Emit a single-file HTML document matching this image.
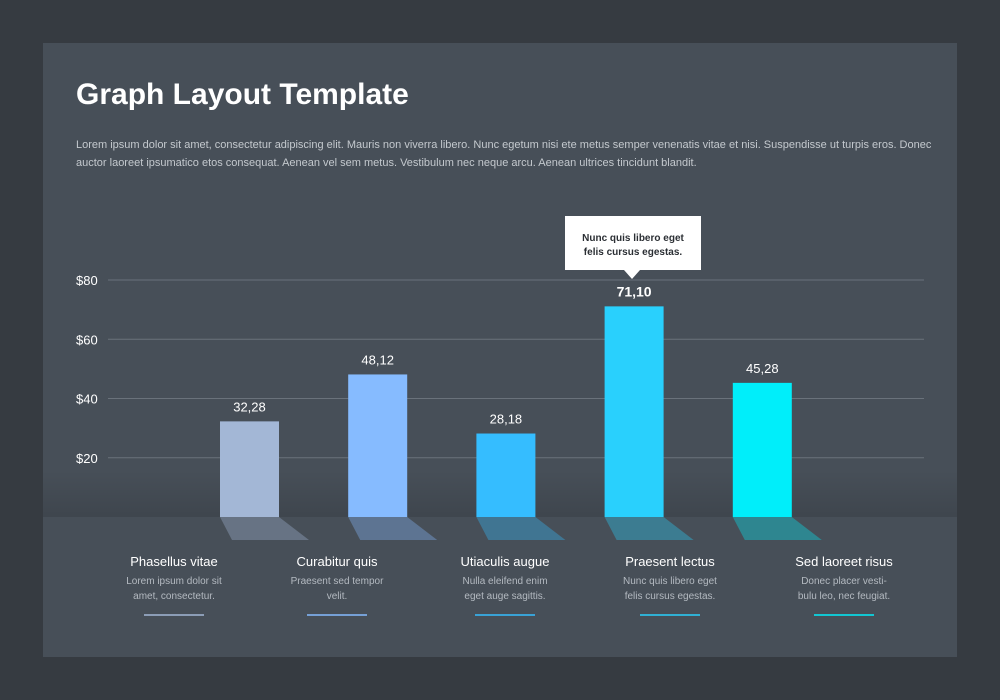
<!DOCTYPE html>
<html><head><meta charset="utf-8"><style>
body{margin:0;width:1000px;height:700px;background:#363b41;font-family:"Liberation Sans",sans-serif;overflow:hidden}
#panel{position:absolute;left:43px;top:43px;width:914px;height:614px;background:#474f58}
h1{position:absolute;left:76px;top:78px;margin:0;font-size:30px;color:#fff;font-weight:bold}
#desc{position:absolute;left:76px;top:136px;width:860px;font-size:11px;line-height:18px;color:#c4c9ce}
svg{position:absolute;left:0;top:0}
</style></head><body>
<div id="panel"></div>
<h1>Graph Layout Template</h1>
<div id="desc">Lorem ipsum dolor sit amet, consectetur adipiscing elit. Mauris non viverra libero. Nunc egetum nisi ete metus semper venenatis vitae et nisi. Suspendisse ut turpis eros. Donec auctor laoreet ipsumatico etos consequat. Aenean vel sem metus. Vestibulum nec neque arcu. Aenean ultrices tincidunt blandit.</div>
<svg id="chart" width="1000" height="700">
<defs>
<linearGradient id="shade" x1="0" y1="0" x2="0" y2="1"><stop offset="0" stop-color="#000" stop-opacity="0"/><stop offset="1" stop-color="#000" stop-opacity="0.12"/></linearGradient>
<linearGradient id="refl" x1="0" y1="0" x2="0" y2="1"><stop offset="0" stop-color="#fff" stop-opacity="0.35"/><stop offset="1" stop-color="#fff" stop-opacity="0"/></linearGradient>
</defs>
<rect x="43" y="470" width="914" height="47" fill="url(#shade)"/>
</svg>
<script>
const categories=["Phasellus vitae","Curabitur quis","Utiaculis augue","Praesent lectus","Sed laoreet risus"];
const values=[32.28,48.12,28.18,71.10,45.28];
const valueLabels=["32,28","48,12","28,18","71,10","45,28"];
const descriptions=[["Lorem ipsum dolor sit","amet, consectetur."],["Praesent sed tempor","velit."],["Nulla eleifend enim","eget auge sagittis."],["Nunc quis libero eget","felis cursus egestas."],["Donec placer vesti-","bulu leo, nec feugiat."]];
const ticks=[20,40,60,80];
const tickLabels=["$20","$40","$60","$80"];
const colors=["#a3b7d6","#86bbff","#35bdff","#29d0fd","#00eefa"];
const NS="http://www.w3.org/2000/svg";
const svg=document.getElementById('chart');
const y=v=>517-v*(237/80);
const xc=i=>249.5+i*128.2;
const labelX=[174,337,505,670,844];
function el(t,a,txt){const e=document.createElementNS(NS,t);for(const k in a)e.setAttribute(k,a[k]);if(txt!=null)e.textContent=txt;svg.appendChild(e);return e;}
ticks.forEach((t,i)=>{
  const l=el('line',{x1:108,x2:924,y1:y(t),y2:y(t),stroke:'#6a727b','stroke-width':1});
  
  
  const tx=el('text',{x:76,y:y(t)+5,fill:'#fff','font-size':13},tickLabels[i]);
  
  
});
values.forEach((v,i)=>{
  const x=xc(i)-29.5;
  const r=el('rect',{x:x,y:y(v),width:59,height:517-y(v),fill:colors[i]});
  
  
  const rf=el('polygon',{points:`${x},517 ${x+59},517 ${x+89},540 ${x+12},540`,fill:colors[i],opacity:0.35});
  
  
  const vl=el('text',{x:xc(i),y:y(v)-10,fill:'#fff','font-size':i==3?14:13,'font-weight':i==3?'bold':'normal','text-anchor':'middle'},valueLabels[i]);
  
  
  const cl=el('text',{x:labelX[i],y:566,fill:'#fff','font-size':13,'text-anchor':'middle'},categories[i]);
  
  
  descriptions[i].forEach((d,j)=>{
    const dt=el('text',{x:labelX[i],y:584+j*15,fill:'#b4bac1','font-size':10,'text-anchor':'middle'},d);
    
    
  });
  const ul=el('line',{x1:labelX[i]-30,x2:labelX[i]+30,y1:615,y2:615,stroke:colors[i],'stroke-width':1.5});
  
  
});
const tip=el('polygon',{points:`565,216 701,216 701,270 640,270 632,279 624,270 565,270`,fill:'#fff'});


["Nunc quis libero eget","felis cursus egestas."].forEach((s,j)=>{
  const t=el('text',{x:633,y:241+j*14,fill:'#2b2f34','font-size':10,'font-weight':'bold','text-anchor':'middle'},s);
  
  
});
</script>
</body></html>
